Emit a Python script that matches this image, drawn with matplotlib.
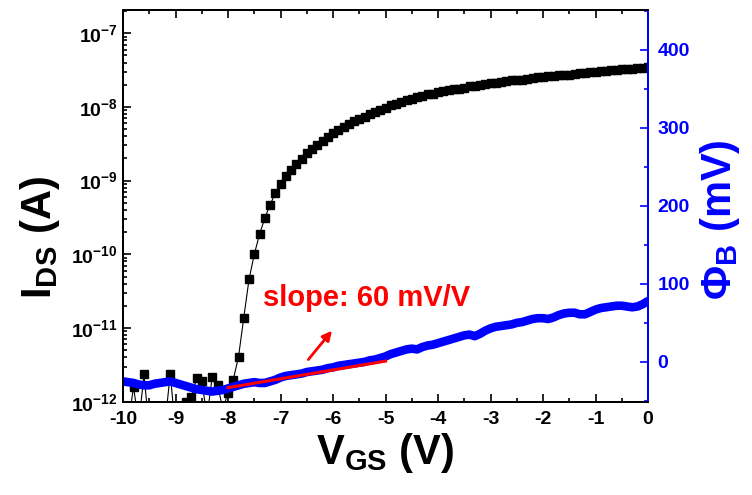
# -*- coding: utf-8 -*-
"""
Transfer curve I_DS(V_GS) together with the barrier height Phi_B
"""

import numpy as np
import matplotlib
matplotlib.use('Agg')
import matplotlib.pyplot as plt
from matplotlib.ticker import MultipleLocator, LogLocator, FuncFormatter, NullFormatter

#==============================================================================
# data
#==============================================================================

v_gs = np.linspace(-10, 0, 101)

# log10 of drain current (A), 0.1 V steps from -10 V to 0 V
log_ids = [
    -12.4, -12.3, -11.8, -12.3, -11.63, -12.4, -12.2, -12.5, -12.3, -11.62,
    -12.4, -12.3, -12.0, -11.94, -11.68, -11.72, -12.2, -11.66, -11.77, -12.1,
    -11.88, -11.70, -11.39, -10.86, -10.34, -10.00, -9.73, -9.51, -9.33, -9.17,
    -9.05, -8.94, -8.85, -8.77, -8.70, -8.63, -8.57, -8.51, -8.46, -8.41,
    -8.35, -8.31, -8.27, -8.23, -8.19, -8.16, -8.13, -8.10, -8.07, -8.04,
    -8.01, -7.98, -7.96, -7.93, -7.91, -7.89, -7.87, -7.85, -7.83, -7.82,
    -7.80, -7.79, -7.77, -7.76, -7.75, -7.74, -7.72, -7.71, -7.70, -7.69,
    -7.68, -7.67, -7.66, -7.65, -7.64, -7.63, -7.63, -7.62, -7.61, -7.60,
    -7.59, -7.58, -7.58, -7.57, -7.56, -7.56, -7.55, -7.54, -7.54, -7.53,
    -7.52, -7.51, -7.51, -7.50, -7.50, -7.49, -7.48, -7.48, -7.47, -7.47,
    -7.46,
]

# barrier height (mV), same voltage grid
phi_b = [
    -25, -26, -27, -29, -30, -30, -28, -27, -26, -25,
    -27, -29, -31, -33, -35, -36, -37, -38, -37, -36,
    -34, -32, -30, -28, -27, -26, -27, -27, -25, -23,
    -20, -18, -17, -16, -15, -13, -12, -11, -10, -8,
    -7, -5, -4, -3, -2, -1, 0, 2, 3, 5,
    7, 10, 12, 14, 16, 17, 16, 19, 21, 22,
    24, 26, 28, 30, 32, 34, 35, 33, 36, 40,
    43, 45, 46, 47, 48, 50, 51, 53, 55, 56,
    56, 55, 57, 60, 62, 63, 63, 61, 61, 64,
    67, 69, 70, 71, 72, 72, 71, 70, 71, 74,
    78,
]

# linear fit in the subthreshold region
fit_v = [-8.0, -5.0]
fit_phi = [-33, 1]

ids = 10.0 ** np.array(log_ids)

#==============================================================================
# Plot settings
#==============================================================================

plt.rcParams['font.family'] = ['Liberation Sans', 'DejaVu Sans']
plt.rcParams['font.weight'] = 'bold'
plt.rcParams['mathtext.fontset'] = 'custom'
plt.rcParams['mathtext.rm'] = 'Liberation Sans:bold'
plt.rcParams['mathtext.bf'] = 'Liberation Sans:bold'
plt.rcParams['mathtext.it'] = 'Liberation Sans:bold'
plt.rcParams['axes.unicode_minus'] = False

blue = '#0000FF'
red = '#FF0000'

tick_font = 14
label_font = 30

#==============================================================================
# plot
#==============================================================================

fig = plt.figure(figsize=(7.52, 4.95), dpi=100)
ax = fig.add_axes([0.1636, 0.1885, 0.6981, 0.7913])

ax.plot(v_gs, ids, '-', color='k', lw=0.8, marker='s', ms=5.2,
        markerfacecolor='k', markeredgecolor='k')
ax.set_yscale('log')
ax.set_xlim(-10, 0)
ax.set_ylim(1e-12, 10 ** -6.684)

ax.xaxis.set_major_locator(MultipleLocator(1))
ax.xaxis.set_minor_locator(MultipleLocator(0.5))
ax.xaxis.set_major_formatter(FuncFormatter(lambda x, p: '%d' % round(x)))
ax.yaxis.set_major_locator(LogLocator(base=10, numticks=20))
ax.yaxis.set_minor_locator(LogLocator(base=10, subs=np.arange(2, 10), numticks=20))
ax.yaxis.set_minor_formatter(NullFormatter())
ax.yaxis.set_major_formatter(
    FuncFormatter(lambda y, p: r'$\mathbf{10^{%d}}$' % round(np.log10(y))))

ax.tick_params(which='both', direction='in', top=True, right=False,
               labelsize=tick_font, width=1.2)
ax.tick_params(which='major', length=6, pad=4)
ax.tick_params(which='minor', length=3)
ax.tick_params(axis='x', which='major', pad=7)
for s in ax.spines.values():
    s.set_linewidth(1.4)
ax.spines['right'].set_color(blue)

ax.set_xlabel(r'$\mathbf{V_{GS}}$ (V)', fontsize=label_font, fontweight='bold')
ax.set_ylabel(r'$\mathbf{I_{DS}}$ (A)', fontsize=label_font, fontweight='bold')
ax.xaxis.set_label_coords(0.5, -0.075)
ax.yaxis.set_label_coords(-0.116, 0.42)

# barrier height on the right axis
ax2 = ax.twinx()
ax2.plot(v_gs, phi_b, '-', color=blue, lw=6.2, solid_capstyle='round',
         solid_joinstyle='round')
ax2.plot(fit_v, fit_phi, '-', color=red, lw=2.2)
ax2.set_ylim(-51, 451)
ax2.yaxis.set_major_locator(MultipleLocator(100))
ax2.yaxis.set_minor_locator(MultipleLocator(50))
ax2.tick_params(which='both', direction='in', colors=blue, labelsize=tick_font,
                width=1.2)
ax2.tick_params(which='major', length=6, pad=7)
ax2.tick_params(which='minor', length=3)
for lab in ax2.get_yticklabels():
    lab.set_fontweight('bold')
for s in ax2.spines.values():
    s.set_linewidth(1.4)
ax2.spines['right'].set_color(blue)
ax2.set_ylabel(r'$\mathbf{Φ_{B}}$ (mV)', fontsize=label_font,
               fontweight='bold', color=blue)
ax2.yaxis.set_label_coords(1.095, 0.464)

ax2.annotate('', xy=(-6.02, 40), xytext=(-6.47, 3),
             arrowprops=dict(arrowstyle='-|>', color=red, lw=2,
                             mutation_scale=14, shrinkA=0, shrinkB=0))
ax2.text(-5.37, 82, 'slope: 60 mV/V', color=red, fontsize=21,
         fontweight='bold', ha='center', va='center')

fig.savefig('out.png', dpi=100)
